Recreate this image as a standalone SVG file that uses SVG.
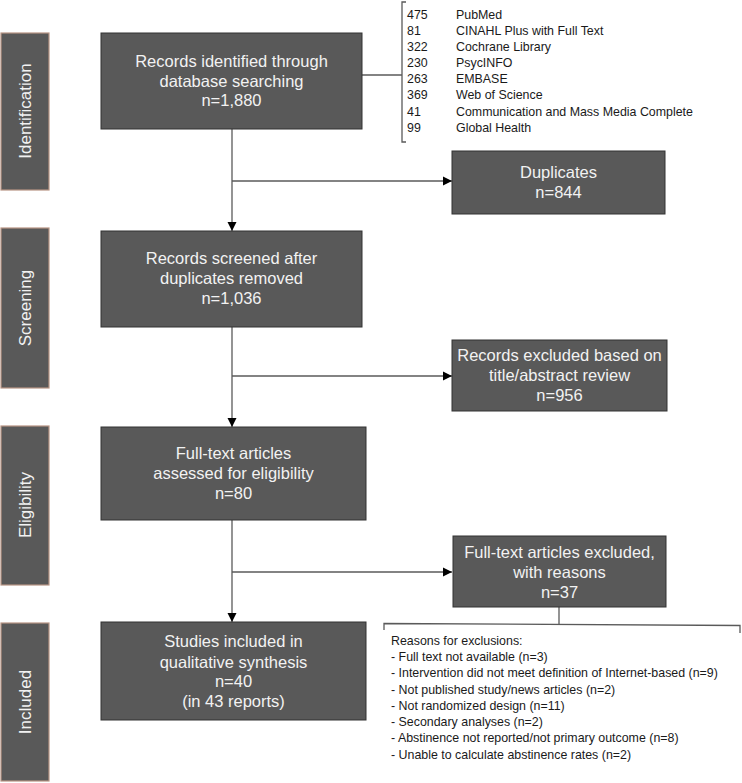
<svg xmlns="http://www.w3.org/2000/svg" width="742" height="783" viewBox="0 0 742 783">
<style>
.box{fill:#595959;stroke:#333;stroke-width:1}
.side{fill:#595959;stroke:#b89484;stroke-width:1.2}
.bt{font-family:"Liberation Sans",Arial,sans-serif;font-size:16.5px;fill:#f2f2f2;text-anchor:middle}
.st{font-family:"Liberation Sans",Arial,sans-serif;font-size:17px;fill:#f2f2f2;text-anchor:middle}
.lt{font-family:"Liberation Sans",Arial,sans-serif;font-size:12.4px;fill:#1a1a1a}
.ln{fill:none;stroke:#5a5a5a;stroke-width:1.3}
</style>
<defs>
<marker id="ah" markerWidth="10" markerHeight="10" refX="9" refY="5" orient="auto" markerUnits="userSpaceOnUse">
<path d="M0,0.5 L9,5 L0,9.5 Z" fill="#000"/>
</marker>
</defs>
<rect width="742" height="783" fill="#fff"/>

<g id="side-identification"><rect class="side" x="1" y="33" width="48" height="157"/><text class="st" transform="translate(31,111) rotate(-90)">Identification</text></g>
<g id="side-screening"><rect class="side" x="1" y="228" width="48" height="160"/><text class="st" transform="translate(31,308) rotate(-90)">Screening</text></g>
<g id="side-eligibility"><rect class="side" x="1" y="426" width="48" height="159"/><text class="st" transform="translate(31,505) rotate(-90)">Eligibility</text></g>
<g id="side-included"><rect class="side" x="1" y="623" width="48" height="158"/><text class="st" transform="translate(31,702) rotate(-90)">Included</text></g>

<g id="connectors">
<path class="ln" d="M232,129 V231" marker-end="url(#ah)"/>
<path class="ln" d="M232,181 H452" marker-end="url(#ah)"/>
<path class="ln" d="M232,327 V427" marker-end="url(#ah)"/>
<path class="ln" d="M232,376 H452" marker-end="url(#ah)"/>
<path class="ln" d="M232,520 V622" marker-end="url(#ah)"/>
<path class="ln" d="M232,572 H452" marker-end="url(#ah)"/>
<path class="ln" d="M362,75 H402"/>
<path class="ln" d="M406,2 H402 V142 H406"/>
<path class="ln" d="M559,607 V624"/>
<path class="ln" d="M384,630 V623.5 L740,625.5 V633"/>
</g>

<g id="box-identified"><rect class="box" x="101" y="33" width="261" height="96"/>
<text class="bt" x="231.5" y="67">Records identified through</text>
<text class="bt" x="231.5" y="87">database searching</text>
<text class="bt" x="231.5" y="106">n=1,880</text></g>

<g id="db-list">
<text class="lt" x="407" y="18.5">475</text><text class="lt" x="456" y="18.5">PubMed</text>
<text class="lt" x="407" y="34.5">81</text><text class="lt" x="456" y="34.5">CINAHL Plus with Full Text</text>
<text class="lt" x="407" y="50.5">322</text><text class="lt" x="456" y="50.5">Cochrane Library</text>
<text class="lt" x="407" y="66.5">230</text><text class="lt" x="456" y="66.5">PsycINFO</text>
<text class="lt" x="407" y="83">263</text><text class="lt" x="456" y="83">EMBASE</text>
<text class="lt" x="407" y="99">369</text><text class="lt" x="456" y="99">Web of Science</text>
<text class="lt" x="407" y="115.5">41</text><text class="lt" x="456" y="115.5">Communication and Mass Media Complete</text>
<text class="lt" x="407" y="131.5">99</text><text class="lt" x="456" y="131.5">Global Health</text>
</g>

<g id="box-duplicates"><rect class="box" x="452" y="151" width="213" height="63"/>
<text class="bt" x="558.5" y="178">Duplicates</text>
<text class="bt" x="558.5" y="198">n=844</text></g>

<g id="box-screened"><rect class="box" x="101" y="231" width="261" height="96"/>
<text class="bt" x="231.5" y="264">Records screened after</text>
<text class="bt" x="231.5" y="284">duplicates removed</text>
<text class="bt" x="231.5" y="304">n=1,036</text></g>

<g id="box-excluded-title"><rect class="box" x="452" y="340" width="215" height="71"/>
<text class="bt" x="559.5" y="361">Records excluded based on</text>
<text class="bt" x="559.5" y="381">title/abstract review</text>
<text class="bt" x="559.5" y="401">n=956</text></g>

<g id="box-fulltext"><rect class="box" x="101" y="427" width="265" height="93"/>
<text class="bt" x="233.5" y="459">Full-text articles</text>
<text class="bt" x="233.5" y="479">assessed for eligibility</text>
<text class="bt" x="233.5" y="499">n=80</text></g>

<g id="box-fulltext-excluded"><rect class="box" x="453" y="536" width="213" height="71"/>
<text class="bt" x="559.5" y="558">Full-text articles excluded,</text>
<text class="bt" x="559.5" y="578">with reasons</text>
<text class="bt" x="559.5" y="598">n=37</text></g>

<g id="box-included"><rect class="box" x="101" y="622" width="265" height="98"/>
<text class="bt" x="233.5" y="647">Studies included in</text>
<text class="bt" x="233.5" y="668">qualitative synthesis</text>
<text class="bt" x="233.5" y="687">n=40</text>
<text class="bt" x="233.5" y="707">(in 43 reports)</text></g>

<g id="reasons">
<text class="lt" x="391" y="644.5">Reasons for exclusions:</text>
<text class="lt" x="391" y="661">- Full text not available (n=3)</text>
<text class="lt" x="391" y="677">- Intervention did not meet definition of Internet-based (n=9)</text>
<text class="lt" x="391" y="693.5">- Not published study/news articles (n=2)</text>
<text class="lt" x="391" y="709.5">- Not randomized design (n=11)</text>
<text class="lt" x="391" y="726">- Secondary analyses (n=2)</text>
<text class="lt" x="391" y="742">- Abstinence not reported/not primary outcome (n=8)</text>
<text class="lt" x="391" y="758.5">- Unable to calculate abstinence rates (n=2)</text>
</g>
</svg>
